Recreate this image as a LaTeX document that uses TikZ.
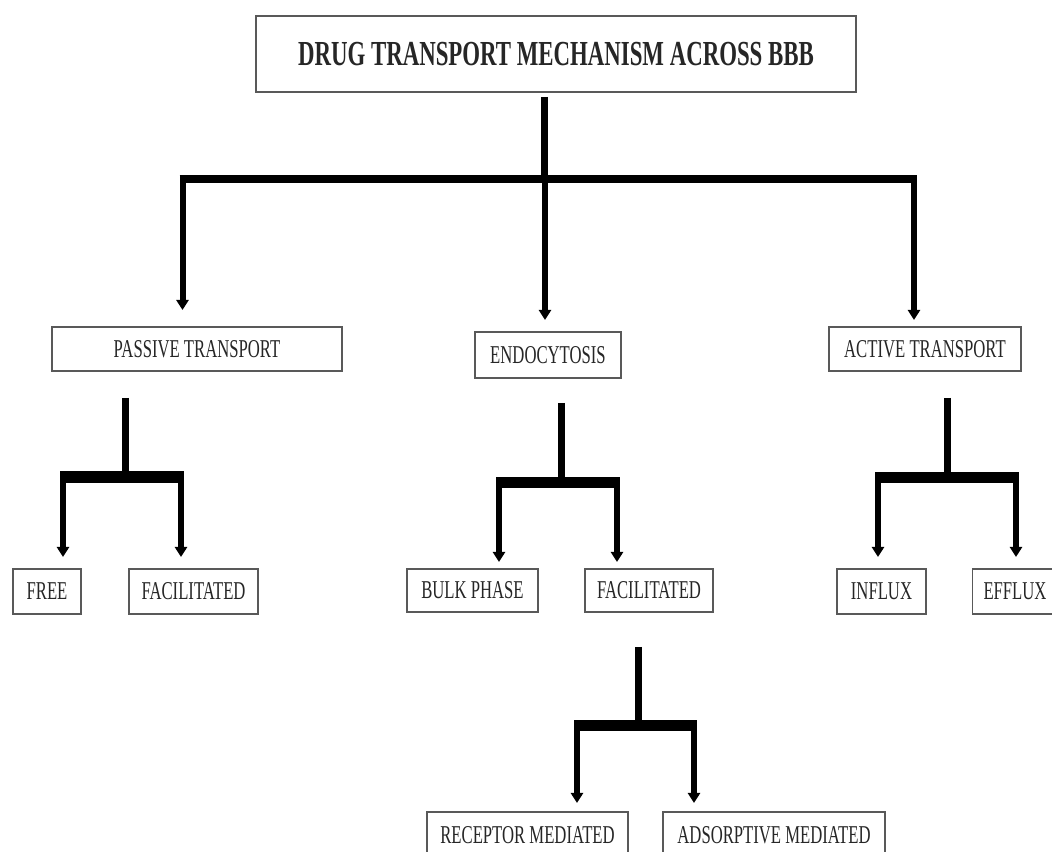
\documentclass[tikz,border=0pt]{standalone}
\usepackage{fontspec}
\setmainfont{Liberation Serif}[FakeStretch=0.65]
\usetikzlibrary{arrows.meta}

\begin{document}
\begin{tikzpicture}[x=0.1mm, y=-0.1mm,
  box/.style={draw=black!65, line width=0.15mm, fill=white, inner sep=0pt,
    minimum height=4.4mm, text=black!85, font=\fontsize{7.3}{8}\selectfont},
  stem/.style={line width=0.7mm},
  bar/.style={line width=1.15mm, shorten <=-0.3mm, shorten >=-0.3mm},
  arr/.style={line width=0.6mm, -{Triangle[width=1.2mm,length=1mm]}}]
  \useasboundingbox (0,0) rectangle (1052,852);
  \clip (0,0) rectangle (1052,852);
  % Boxes
  \node[box, minimum width=60mm, minimum height=7.6mm,
    font=\bfseries\fontsize{10}{12}\selectfont] (title) at (556,54) {DRUG TRANSPORT MECHANISM ACROSS BBB};
  \node[box, minimum width=29mm] (passive) at (197,349) {PASSIVE TRANSPORT};
  \node[box, minimum width=14.6mm, minimum height=4.6mm] (endo) at (548,355) {ENDOCYTOSIS};
  \node[box, minimum width=19.2mm] (active) at (925,349) {ACTIVE TRANSPORT};
  \node[box, minimum width=6.8mm, minimum height=4.5mm] (free) at (47,591.5) {FREE};
  \node[box, minimum width=12.9mm, minimum height=4.5mm] (facil) at (193.5,591.5) {FACILITATED};
  \node[box, minimum width=13.1mm, minimum height=4.3mm] (bulk) at (472.5,590.5) {BULK PHASE};
  \node[box, minimum width=12.8mm, minimum height=4.3mm] (efacil) at (649,590.5) {FACILITATED};
  \node[box, minimum width=8.9mm, minimum height=4.5mm] (influx) at (881.5,591.5) {INFLUX};
  \node[box, minimum width=8.5mm, minimum height=4.5mm] (efflux) at (1015,591.5) {EFFLUX};
  \node[box, minimum width=20.1mm, minimum height=4.6mm] (receptor) at (527.5,835) {RECEPTOR MEDIATED};
  \node[box, minimum width=22.2mm, minimum height=4.6mm] (adsorptive) at (774,835) {ADSORPTIVE MEDIATED};

  % Arrow ends just above the boxes
  \coordinate (passive-in) at (182.5,310);
  \coordinate (endo-in) at (545,320);
  \coordinate (active-in) at (914,320);
  \coordinate (free-in) at (63,557);
  \coordinate (facil-in) at (181,557);
  \coordinate (bulk-in) at (499,562);
  \coordinate (efacil-in) at (617,562);
  \coordinate (influx-in) at (878,557);
  \coordinate (efflux-in) at (1016,557);
  \coordinate (receptor-in) at (577,803);
  \coordinate (adsorptive-in) at (694,803);

  % Stem tops and junctions
  \coordinate (title-out) at (544,97);
  \coordinate (title-j) at (544,179);
  \coordinate (passive-out) at (125,398);
  \coordinate (passive-j) at (125,477);
  \coordinate (endo-out) at (561,403);
  \coordinate (endo-j) at (561,482.5);
  \coordinate (active-out) at (947,398);
  \coordinate (active-j) at (947,477.5);
  \coordinate (efacil-out) at (638,647);
  \coordinate (efacil-j) at (638,725.5);

  % Drug transport -> three routes
  \draw[stem] (title-out) -- (title-j);
  \draw[bar, line width=0.85mm] (passive-in |- title-j) -- (active-in |- title-j);
  \draw[arr] (passive-in |- title-j) -- (passive-in);
  \draw[arr] (endo-in |- title-j) -- (endo-in);
  \draw[arr] (active-in |- title-j) -- (active-in);

  % Passive transport
  \draw[stem] (passive-out) -- (passive-j);
  \draw[bar] (free-in |- passive-j) -- (facil-in |- passive-j);
  \draw[arr] (free-in |- passive-j) -- (free-in);
  \draw[arr] (facil-in |- passive-j) -- (facil-in);

  % Endocytosis
  \draw[stem] (endo-out) -- (endo-j);
  \draw[bar] (bulk-in |- endo-j) -- (efacil-in |- endo-j);
  \draw[arr] (bulk-in |- endo-j) -- (bulk-in);
  \draw[arr] (efacil-in |- endo-j) -- (efacil-in);

  % Active transport
  \draw[stem] (active-out) -- (active-j);
  \draw[bar] (influx-in |- active-j) -- (efflux-in |- active-j);
  \draw[arr] (influx-in |- active-j) -- (influx-in);
  \draw[arr] (efflux-in |- active-j) -- (efflux-in);

  % Facilitated endocytosis
  \draw[stem] (efacil-out) -- (efacil-j);
  \draw[bar] (receptor-in |- efacil-j) -- (adsorptive-in |- efacil-j);
  \draw[arr] (receptor-in |- efacil-j) -- (receptor-in);
  \draw[arr] (adsorptive-in |- efacil-j) -- (adsorptive-in);
\end{tikzpicture}
\end{document}
